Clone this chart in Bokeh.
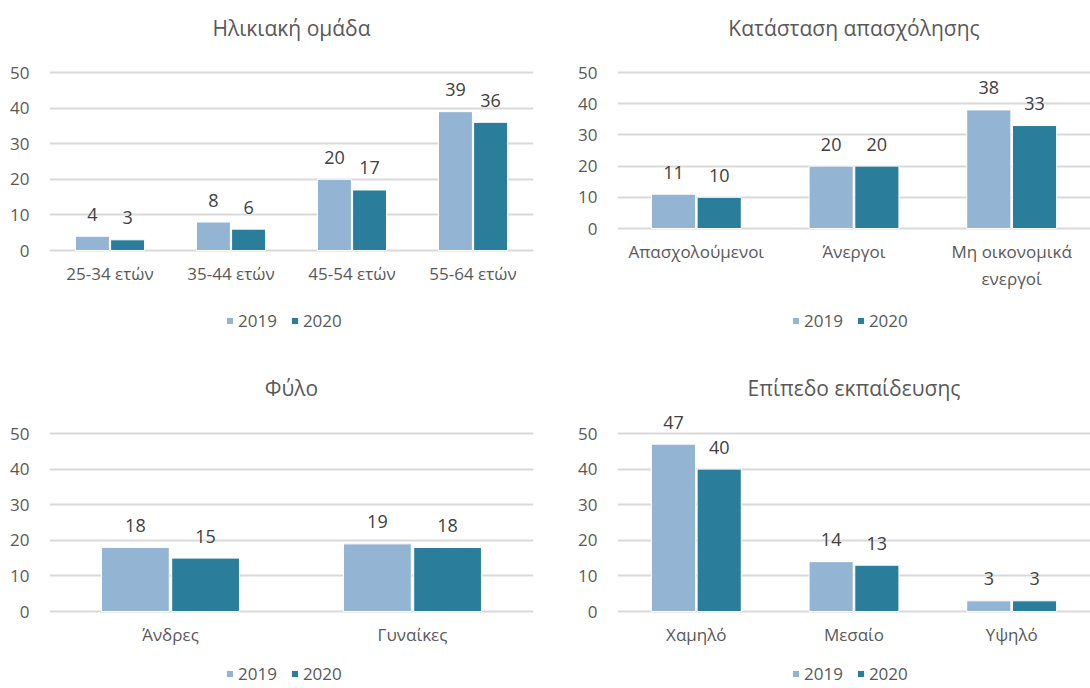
from bokeh.plotting import figure
from bokeh.models import (ColumnDataSource, FactorRange, Range1d, FixedTicker,
                          Legend, LegendItem)
from bokeh.transform import dodge
from bokeh.layouts import column, row
from bokeh.core.properties import value
from bokeh.embed import file_html
from bokeh.resources import INLINE

# ---------------- data ----------------
years = ["2019", "2020"]
y_ticks = [0, 10, 20, 30, 40, 50]

age_title = "Ηλικιακή ομάδα"
age_cats = ["25-34 ετών", "35-44 ετών", "45-54 ετών", "55-64 ετών"]
age_2019 = [4, 8, 20, 39]
age_2020 = [3, 6, 17, 36]

emp_title = "Κατάσταση απασχόλησης"
emp_cats = ["Απασχολούμενοι", "Άνεργοι", "Μη οικονομικά\nενεργοί"]
emp_2019 = [11, 20, 38]
emp_2020 = [10, 20, 33]

sex_title = "Φύλο"
sex_cats = ["Άνδρες", "Γυναίκες"]
sex_2019 = [18, 19]
sex_2020 = [15, 18]

edu_title = "Επίπεδο εκπαίδευσης"
edu_cats = ["Χαμηλό", "Μεσαίο", "Υψηλό"]
edu_2019 = [47, 14, 3]
edu_2020 = [40, 13, 3]

# ---------------- style ----------------
FONT = "Open Sans"
LIGHT = "#94B4D3"
DARK = "#2A7E9B"
TXT = "#595959"
LBL = "#404040"
GRID = "#D9D9D9"


def panel(title, cats, v19, v20, width, height, bl, br, bt, zero_px, px_unit,
          leg_x, leg_y):
    """zero_px: distance (px) from figure top to the value 0 line."""
    src = ColumnDataSource(dict(cat=cats, v19=v19, v20=v20,
                                t19=[str(v) for v in v19],
                                t20=[str(v) for v in v20]))
    y_end = (zero_px - bt) / px_unit
    y_start = -(height - zero_px) / px_unit
    p = figure(x_range=FactorRange(factors=cats, range_padding=0),
               y_range=Range1d(y_start, y_end), width=width, height=height,
               min_border_left=bl, min_border_right=br, min_border_top=bt,
               min_border_bottom=0, output_backend="svg",
               toolbar_location=None, tools="")
    p.title.text = title
    p.title.align = "center"
    p.title.text_font = FONT
    p.title.text_font_size = "21px"
    p.title.text_font_style = "normal"
    p.title.text_color = TXT
    p.title.standoff = 4
    p.outline_line_color = None
    p.background_fill_color = "white"
    p.border_fill_color = "white"
    p.xgrid.grid_line_color = None
    p.ygrid.grid_line_color = GRID
    p.ygrid.grid_line_width = 2
    p.yaxis.ticker = FixedTicker(ticks=y_ticks)
    p.xaxis.fixed_location = 0
    for ax in (p.xaxis[0], p.yaxis[0]):
        ax.axis_line_color = None
        ax.major_tick_line_color = None
        ax.minor_tick_line_color = None
        ax.major_tick_out = 0
        ax.major_tick_in = 0
        ax.major_label_text_font = FONT
        ax.major_label_text_font_size = "17px"
        ax.major_label_text_color = TXT
    p.yaxis.major_label_standoff = 20
    p.xaxis.major_label_standoff = 11

    off = 0.145
    w = 0.28
    r1 = p.vbar(x=dodge("cat", -off, range=p.x_range), top="v19", width=w,
                source=src, fill_color=LIGHT, line_color="white", line_width=1)
    r2 = p.vbar(x=dodge("cat", off, range=p.x_range), top="v20", width=w,
                source=src, fill_color=DARK, line_color="white", line_width=1)
    for col, tcol, sgn in (("v19", "t19", -1), ("v20", "t20", 1)):
        p.text(x=dodge("cat", sgn * off, range=p.x_range), y=col, text=tcol,
               source=src, text_align="center", text_baseline="alphabetic",
               y_offset=-22, text_font=value(FONT), text_font_size="18px",
               text_color=LBL)

    leg = Legend(items=[LegendItem(label=years[0], renderers=[r1]),
                        LegendItem(label=years[1], renderers=[r2])],
                 orientation="horizontal", location=(leg_x, leg_y),
                 border_line_color=None, background_fill_alpha=0,
                 glyph_width=9, glyph_height=9, label_standoff=4, spacing=13,
                 padding=0, margin=0, label_text_font=FONT,
                 label_text_font_size="17px", label_text_color=TXT)
    p.add_layout(leg, "center")
    return p


W = 545
H = 344
p1 = panel(age_title, age_cats, age_2019, age_2020, W, H,
           49, 12, 43, 250, 3.56, 176, 12)
p2 = panel(emp_title, emp_cats, emp_2019, emp_2020, W, H,
           72, 0, 43, 228, 3.12, 174, 12)
p3 = panel(sex_title, sex_cats, sex_2019, sex_2020, W, H,
           49, 12, 59, 267, 3.56, 176, 3)
p4 = panel(edu_title, edu_cats, edu_2019, edu_2020, W, H,
           72, 0, 59, 267, 3.56, 174, 3)

layout = column(row(p1, p2, spacing=0), row(p3, p4, spacing=0), spacing=0)

open("out.html", "w").write(file_html(layout, INLINE))
